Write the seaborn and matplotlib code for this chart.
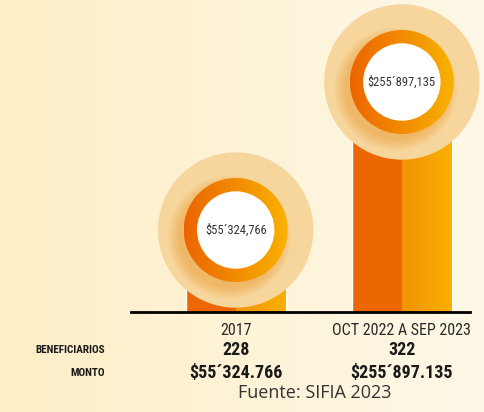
import numpy as np
import matplotlib
matplotlib.use('Agg')
import matplotlib.pyplot as plt
import seaborn as sns
from matplotlib import font_manager
from matplotlib.patches import Circle
from matplotlib.colors import to_rgb

# data
periodos = ['2017', 'OCT 2022 A SEP 2023']
montos = [55324766, 255897135]
beneficiarios = ['228', '322']
etiquetas_circulo = ['$55´324,766', '$255´897,135']
etiquetas_monto = ['$55´324.766', '$255´897.135']
fuente = 'Fuente: SIFIA 2023'

sns.set_style('white')
names = {f.name for f in font_manager.fontManager.ttflist}
narrow = next((n for n in ['Liberation Sans Narrow', 'Roboto Condensed', 'DejaVu Sans Condensed']
               if n in names), 'DejaVu Sans')
plt.rcParams['font.family'] = [narrow, 'DejaVu Sans']

W, H = 484, 412
fig = plt.figure(figsize=(W / 100, H / 100), dpi=100)


def hgrad(c0, c1, n=256):
    a, b = np.array(to_rgb(c0)), np.array(to_rgb(c1))
    t = np.linspace(0, 1, n)[None, :, None]
    return a + (b - a) * t


# background
bg = fig.add_axes([0, 0, 1, 1], zorder=0)
bg.imshow(hgrad('#fdeec6', '#fef8e8'), aspect='auto', extent=(0, 1, 0, 1))
bg.axis('off')

# bars
ax = fig.add_axes([131 / W, 100 / H, 339 / W, 312 / H], zorder=1)
ax.patch.set_alpha(0)
sns.barplot(x=periodos, y=montos, ax=ax, color='#ec6702', saturation=1, width=0.6)
ax.set_yscale('log')
ax.set_ylim(2.368e7, 5.978e8)
ax.set_xlim(-0.63, 1.41)
ax.set_yticks([])
ax.set_ylabel('')
ax.minorticks_off()
for s in ['top', 'left', 'right']:
    ax.spines[s].set_visible(False)
ax.spines['bottom'].set_linewidth(2)
ax.spines['bottom'].set_color('black')
ax.tick_params(axis='x', length=0, pad=8, labelsize=11.5, labelcolor='#2a2a2a')

fig.canvas.draw()

# overlay in pixel coords
ov = fig.add_axes([0, 0, 1, 1], zorder=2)
ov.set_xlim(0, W)
ov.set_ylim(0, H)
ov.axis('off')
ov.patch.set_alpha(0)

base = ax.get_window_extent().y0
for p in ax.patches:
    bb = p.get_window_extent()
    xm = (bb.x0 + bb.x1) / 2
    ov.imshow(hgrad('#f39206', '#f9b000'), aspect='auto',
              extent=(xm, bb.x1, max(bb.y0, base) + 1, bb.y1), zorder=1)

for i, m in enumerate(montos):
    cx, cy = ax.transData.transform((i, m))
    outer = Circle((cx, cy), 77, color='#f7d69e', zorder=2)
    ov.add_patch(outer)
    # soft shadow toward bottom-left
    for k in range(8):
        sh = Circle((cx - 6, cy - 7), 51 + k * 1.5, color='#eb9a2a',
                    alpha=0.07, lw=0, zorder=3)
        ov.add_patch(sh)
        sh.set_clip_path(outer)
    ring = Circle((cx, cy), 52, facecolor='none', edgecolor='none', zorder=4)
    ov.add_patch(ring)
    im = ov.imshow(hgrad('#ec6500', '#f9b200'), aspect='auto',
                   extent=(cx - 52, cx + 52, cy - 52, cy + 52), zorder=4)
    im.set_clip_path(ring)
    ov.add_patch(Circle((cx, cy), 38, color='white', zorder=5))
    ov.text(cx, cy, etiquetas_circulo[i], ha='center', va='center',
            fontsize=9, color='#333333', zorder=6)
    ov.text(cx, H - 350, beneficiarios[i], ha='center', va='center',
            fontsize=13, fontweight='bold', color='#1a1a1a')
    ov.text(cx, H - 373, etiquetas_monto[i], ha='center', va='center',
            fontsize=13, fontweight='bold', color='#1a1a1a')

ov.text(105, H - 350, 'BENEFICIARIOS', ha='right', va='center',
        fontsize=8, fontweight='bold', color='#1a1a1a')
ov.text(105, H - 373, 'MONTO', ha='right', va='center',
        fontsize=8, fontweight='bold', color='#1a1a1a')
ov.text(315, H - 393, fuente, ha='center', va='center',
        fontsize=13, color='#333333', family=['Open Sans', 'DejaVu Sans'])

ov.set_xlim(0, W)
ov.set_ylim(0, H)

plt.savefig('out.png', dpi=100)
plt.close()
